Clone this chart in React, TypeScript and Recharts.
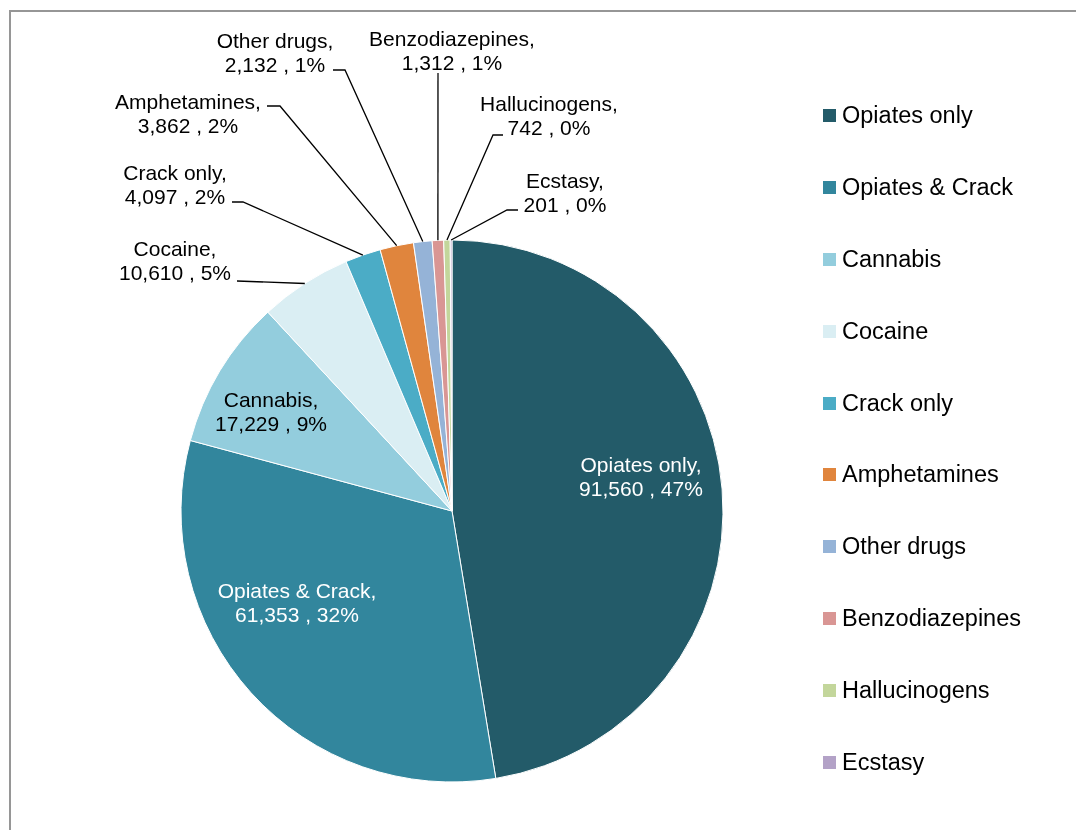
import React from 'react';
import { PieChart, Pie, Cell, Legend } from 'recharts';

const NAMES = ['Opiates only', 'Opiates & Crack', 'Cannabis', 'Cocaine', 'Crack only', 'Amphetamines', 'Other drugs', 'Benzodiazepines', 'Hallucinogens', 'Ecstasy'];
const VALUES = [91560, 61353, 17229, 10610, 4097, 3862, 2132, 1312, 742, 201];
const COLORS = ['#235B69', '#32869D', '#93CDDD', '#DAEEF3', '#4BACC6', '#E0853D', '#95B3D7', '#D99694', '#C3D69B', '#B3A2C7'];

const data = NAMES.map((name, i) => ({ name, value: VALUES[i] }));

// label placement relative to pie centre (px)
const LABEL_LAYOUT: { tx: number; ty: number; fill?: string; path?: number[][] }[] = [
  { tx: 189, ty: -47, fill: '#fff' },
  { tx: -155, ty: 79, fill: '#fff' },
  { tx: -181, ty: -112 },
  { tx: -277, ty: -263, path: [[-215, -230]] },
  { tx: -277, ty: -339, path: [[-209, -309], [-220, -309]] },
  { tx: -264, ty: -410, path: [[-172, -405], [-185, -405]] },
  { tx: -177, ty: -471, path: [[-107, -441], [-119, -441]] },
  { tx: 0, ty: -473, path: [[-14, -438]] },
  { tx: 97, ty: -408, path: [[41, -376], [51, -376]] },
  { tx: 113, ty: -331, path: [[55, -301], [66, -301]] },
];

const FONT = '"Liberation Sans", Arial, sans-serif';
const RAD = Math.PI / 180;

const renderLabel = (props: any) => {
  const { cx, cy, midAngle, outerRadius, index, percent, value, name } = props;
  const lay = LABEL_LAYOUT[index];
  if (!lay) return null;
  const x = cx + lay.tx;
  const y = cy + lay.ty;
  const line1 = `${name},`;
  const line2 = `${Number(value).toLocaleString('en-US')} , ${Math.round(percent * 100)}%`;
  let line: React.ReactNode = null;
  if (lay.path) {
    const sx = cx + outerRadius * Math.cos(-midAngle * RAD);
    const sy = cy + outerRadius * Math.sin(-midAngle * RAD);
    const pts = [[sx, sy], ...lay.path.map(([dx, dy]) => [cx + dx, cy + dy])];
    line = <polyline points={pts.map((p) => p.join(',')).join(' ')} fill="none" stroke="#000" strokeWidth={1.3} />;
  }
  const fill = lay.fill || '#000';
  return (
    <g key={`lbl-${index}`}>
      {line}
      <text x={x} y={y} textAnchor="middle" dominantBaseline="central" fill={fill} fontSize={21} fontFamily={FONT}>
        {line1}
      </text>
      <text x={x} y={y + 24} textAnchor="middle" dominantBaseline="central" fill={fill} fontSize={21} fontFamily={FONT}>
        {line2}
      </text>
    </g>
  );
};

const renderLegend = (props: any) => {
  const payload = props.payload || [];
  const base = payload.length ? payload : NAMES.map((n, i) => ({ value: n, color: COLORS[i] }));
  const items = [...base].sort((a: any, b: any) => NAMES.indexOf(a.value) - NAMES.indexOf(b.value));
  return (
    <div>
      {items.map((it: any, i: number) => (
        <div key={i} style={{ height: 71.8, display: 'flex', alignItems: 'center' }}>
          <span style={{ width: 13, height: 13, background: COLORS[NAMES.indexOf(it.value)] || it.color, display: 'inline-block', marginRight: 6 }} />
          <span style={{ fontSize: 23.5, fontFamily: FONT, color: '#000' }}>{it.value}</span>
        </div>
      ))}
    </div>
  );
};

export default function App() {
  return (
    <div style={{ position: 'relative', width: 1060, height: 814, overflow: 'hidden', background: '#fff' }}>
      <div style={{ position: 'fixed', left: 9, top: 10, width: 2000, height: 2000, borderTop: '2px solid #969696', borderLeft: '2px solid #969696', pointerEvents: 'none' }} />
      <div style={{ position: 'absolute', left: 0, top: 0 }}>
        <PieChart width={1060} height={814} margin={{ top: 0, right: 0, bottom: 0, left: 0 }}>
          <Pie
            data={data}
            dataKey="value"
            nameKey="name"
            cx={444}
            cy={503}
            outerRadius={271}
            startAngle={90}
            endAngle={-270}
            stroke="#fff"
            strokeWidth={1}
            label={renderLabel}
            labelLine={false}
            isAnimationActive={false}
          >
            {data.map((d, i) => (
              <Cell key={d.name} fill={COLORS[i]} />
            ))}
          </Pie>
          <Legend
            layout="vertical"
            align="right"
            verticalAlign="top"
            itemSorter={null as any}
            content={renderLegend}
            wrapperStyle={{ position: 'absolute', left: 815, top: 72, width: 240 }}
          />
        </PieChart>
      </div>
    </div>
  );
}
